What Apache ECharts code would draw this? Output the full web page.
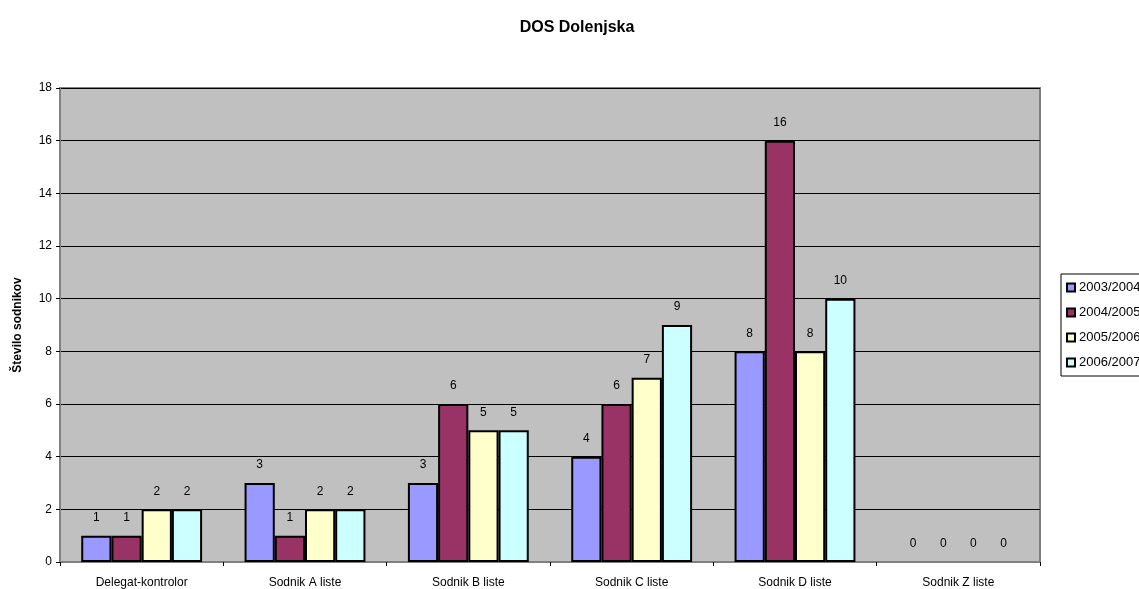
<!DOCTYPE html>
<html>
<head>
<meta charset="utf-8">
<script src="https://cdn.jsdelivr.net/npm/echarts@6/dist/echarts.min.js"></script>
<style>
  html, body { margin: 0; padding: 0; background: #fff; }
  #myChart { width: 1139px; height: 589px; }
</style>
</head>
<body>
<div id="myChart"></div>
<script>
  // kategorije in sezone
  const categories = ['Delegat-kontrolor', 'Sodnik A liste', 'Sodnik B liste', 'Sodnik C liste', 'Sodnik D liste', 'Sodnik Z liste'];
  const seasons = ['2003/2004', '2004/2005', '2005/2006', '2006/2007'];
  const s2003 = [1, 3, 3, 4, 8, 0];
  const s2004 = [1, 1, 6, 6, 16, 0];
  const s2005 = [2, 2, 5, 7, 8, 0];
  const s2006 = [2, 2, 5, 9, 10, 0];
  const colors = ['#9999FF', '#993366', '#FFFFCC', '#CCFFFF'];

  const font = 'Liberation Sans, Arial, sans-serif';
  const seriesData = [s2003, s2004, s2005, s2006];

  let myChart = echarts.init(document.getElementById('myChart'));
  myChart.setOption({
    animation: false,
    textStyle: { fontFamily: font },
    title: {
      text: 'DOS Dolenjska',
      left: 572,
      top: 15,
      textAlign: 'center',
      textStyle: { fontSize: 16, fontWeight: 'bold', color: '#000', fontFamily: font }
    },
    legend: {
      orient: 'vertical',
      left: 1061,
      top: 274,
      data: seasons,
      icon: 'rect',
      itemWidth: 8,
      itemHeight: 8,
      itemGap: 12,
      padding: [7, 10, 7, 5],
      borderColor: '#000',
      borderWidth: 1,
      textStyle: { fontSize: 13, color: '#000', fontFamily: font, padding: [0, 0, 0, -1] }
    },
    grid: {
      left: 60,
      right: 99,
      top: 88,
      bottom: 26,
      show: true,
      backgroundColor: '#C0C0C0',
      borderColor: '#808080',
      borderWidth: 2
    },
    xAxis: {
      type: 'category',
      data: categories,
      axisLine: { lineStyle: { color: '#808080', width: 2 } },
      axisTick: { show: true, length: 4, lineStyle: { color: '#000' } },
      axisLabel: { fontSize: 12, color: '#000', margin: 15 }
    },
    yAxis: {
      type: 'value',
      min: 0,
      max: 18,
      interval: 2,
      name: 'Število sodnikov',
      nameLocation: 'middle',
      nameGap: 36,
      nameTextStyle: { fontSize: 12, fontWeight: 'bold', color: '#000' },
      axisLine: { show: true, lineStyle: { color: '#808080', width: 2 } },
      axisTick: { show: true, length: 4, lineStyle: { color: '#000' } },
      axisLabel: { fontSize: 12, color: '#000', margin: 8 },
      splitLine: { lineStyle: { color: '#000', width: 1 } }
    },
    series: seasons.map((name, i) => ({
      name: name,
      type: 'bar',
      // ničelni stolpci brez obrobe
      data: seriesData[i].map(v => v === 0 ? { value: v, itemStyle: { borderWidth: 0 } } : v),
      barGap: '0%',
      barCategoryGap: '26%',
      itemStyle: { color: colors[i], borderColor: '#000', borderWidth: 2 },
      label: {
        show: true,
        position: 'top',
        distance: 12,
        fontSize: 12,
        color: '#000'
      }
    }))
  });
</script>
</body>
</html>
